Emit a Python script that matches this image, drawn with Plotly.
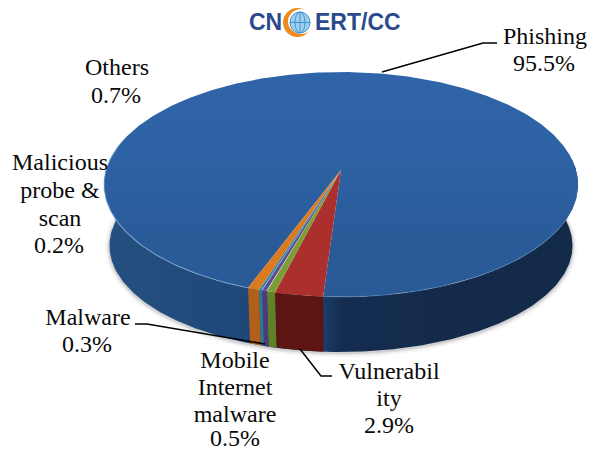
import numpy as np
import plotly.graph_objects as go

categories = ["Phishing", "Vulnerability", "Mobile Internet malware", "Malware", "Malicious probe & scan", "Others"]
values = [95.5, 2.9, 0.5, 0.3, 0.2, 0.7]
top_colors = ["#2d62a4", "#ab2f2c", "#7b9e35", "#5d4a94", "#2f8aa8", "#db7a1e"]
side_colors = ["#1c4270", "#5c1513", "#5f8228", "#4f3a80", "#2a7a90", "#b0601a"]

# label lines: (text, centre x, centre y)
label_text = ["Phishing", "95.5%", "Others", "0.7%", "Malicious", "probe &", "scan", "0.2%",
              "Malware", "0.3%", "Mobile", "Internet", "malware", "0.5%", "Vulnerabil", "ity", "2.9%"]
label_x = [545, 544, 117, 116, 60, 60, 60, 59, 88, 87, 235, 235, 235, 235, 389, 389, 389]
label_y = [38, 65, 69, 97, 164, 192, 220, 247, 319, 346, 362, 389, 416, 440, 373, 400, 427]
leaders = [
    ([497, 483, 382], [43, 43, 72]),
    ([135, 147, 265], [324, 324, 344]),
    ([300, 321, 332], [349, 376, 376]),
]

AX, BY, K = 235.0, 110.6, 0.129
APEX_X, APEX_Y = 341.0, 170.0
FLOOR_Y, FLOOR_S, FLOOR_B = 232.0, 0.977, 104.5
START = 183.8  # degrees clockwise from far point where the first slice ends


def rim(theta_deg, floor=False):
    t = np.radians(np.asarray(theta_deg, dtype=float))
    X, Y = np.sin(t), -np.cos(t)
    w = 1 - K * Y
    if floor:
        return APEX_X + FLOOR_S * AX * X / w, FLOOR_Y + FLOOR_B * Y / w
    return APEX_X + AX * X / w, APEX_Y + BY * Y / w


fig = go.Figure()


def poly(x, y, color=None, gradient=None):
    kw = dict(fillgradient=gradient) if gradient else dict(fillcolor=color)
    fig.add_trace(go.Scatter(x=list(x), y=list(y), mode="lines", fill="toself",
                             line=dict(width=0), hoverinfo="skip", showlegend=False, **kw))


# slice angle ranges; small slices follow the phishing end, phishing takes the rest
small_sweeps = [v * 3.6 for v in values[1:]]
edges = [START]
for s in small_sweeps:
    edges.append(edges[-1] + s)
end_small = edges[-1]

# soft shadow below the wall
sx, sy = rim(np.linspace(80, 280, 120), floor=True)
for width, alpha in [(9, 0.05), (5, 0.08), (2.5, 0.12)]:
    fig.add_trace(go.Scatter(x=sx, y=sy + 1, mode="lines", hoverinfo="skip", showlegend=False,
                             line=dict(width=width, color=f"rgba(60,60,70,{alpha})")))

# wall of the large slice
th = np.linspace(84, 276, 260)
tx, ty = rim(th)
bx, by = rim(th[::-1], floor=True)
poly(np.r_[tx, bx], np.r_[ty, by], gradient=dict(
    type="horizontal",
    colorscale=[[0, "#24507f"], [0.3, "#1f4779"], [0.46, "#1b3f6c"], [0.5, "#142c50"],
                [0.8, "#132a4a"], [1, "#122a48"]]))

# walls of the small slices
for i, col in enumerate(side_colors[1:]):
    th = np.linspace(edges[i], edges[i + 1], 8)
    tx, ty = rim(th)
    bx, by = rim(th[::-1], floor=True)
    poly(np.r_[tx, bx], np.r_[ty, by], color=col)

# top: large slice
th = np.linspace(end_small, START + 360, 400)
tx, ty = rim(th)
poly(np.r_[APEX_X, tx, APEX_X], np.r_[APEX_Y, ty, APEX_Y], gradient=dict(
    type="vertical",
    colorscale=[[0, "#2a5a96"], [0.25, "#2a5b99"], [0.65, "#2d62a4"], [1, "#2f65a8"]]))

# top: small slices
for i, col in enumerate(top_colors[1:]):
    th = np.linspace(edges[i], edges[i + 1], 8)
    tx, ty = rim(th)
    poly(np.r_[APEX_X, tx, APEX_X], np.r_[APEX_Y, ty, APEX_Y], color=col)

# rim highlight
hx, hy = rim(np.linspace(200, 285, 80))
fig.add_trace(go.Scatter(x=hx, y=hy, mode="lines", hoverinfo="skip", showlegend=False,
                         line=dict(width=1.2, color="rgba(150,185,225,0.55)")))
hx, hy = rim(np.linspace(100, 183, 80))
fig.add_trace(go.Scatter(x=hx, y=hy, mode="lines", hoverinfo="skip", showlegend=False,
                         line=dict(width=1.0, color="rgba(120,160,210,0.35)")))

# leader lines
for lx, ly in leaders:
    fig.add_trace(go.Scatter(x=lx, y=ly, mode="lines", hoverinfo="skip", showlegend=False,
                             line=dict(width=1.5, color="#000000")))

# labels
fig.add_trace(go.Scatter(x=label_x, y=label_y, text=label_text, mode="text", textposition="middle center",
                         hoverinfo="skip", showlegend=False, cliponaxis=False,
                         textfont=dict(family="Liberation Serif", size=24, color="#0a0a0a")))

# logo
fig.add_annotation(x=284, y=22, text="<b>CN</b>", showarrow=False, xanchor="right", yanchor="middle",
                   font=dict(family="Liberation Sans", size=23, color="#2b4a8c"))
fig.add_annotation(x=313, y=22, text="<b>ERT/CC</b>", showarrow=False, xanchor="left", yanchor="middle",
                   font=dict(family="Liberation Sans", size=23, color="#2b4a8c"))
fig.add_shape(type="circle", x0=283, x1=312, y0=8, y1=37, fillcolor="#ee8a1e", line=dict(width=0))
fig.add_shape(type="circle", x0=288, x1=315, y0=9, y1=34, fillcolor="#ffffff", line=dict(width=0))
fig.add_shape(type="circle", x0=290, x1=310, y0=12, y1=33, fillcolor="#9fd0ee",
              line=dict(width=1, color="#3f93d0"))
fig.add_shape(type="circle", x0=295, x1=305, y0=12, y1=33, line=dict(width=1, color="#3f93d0"))
fig.add_shape(type="line", x0=290, x1=310, y0=22.5, y1=22.5, line=dict(width=1, color="#3f93d0"))
fig.add_shape(type="line", x0=300, x1=300, y0=12, y1=33, line=dict(width=1, color="#3f93d0"))

fig.update_layout(
    width=590, height=452, margin=dict(l=0, r=0, t=0, b=0),
    font=dict(family="Liberation Serif"),
    paper_bgcolor="#ffffff", plot_bgcolor="#ffffff", showlegend=False,
    xaxis=dict(range=[0, 590], visible=False, fixedrange=True),
    yaxis=dict(range=[452, 0], visible=False, fixedrange=True),
)
fig.write_html("out.html", config=dict(displayModeBar=False),
               post_script="document.body.style.margin='0';document.documentElement.style.overflow='hidden';")
